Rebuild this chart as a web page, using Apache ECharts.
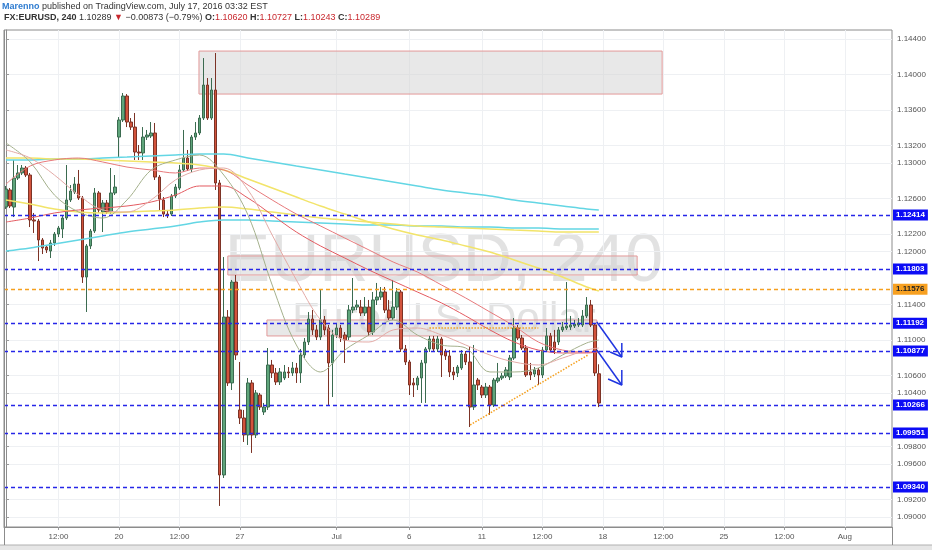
<!DOCTYPE html>
<html>
<head>
<meta charset="utf-8">
<script src="https://cdn.jsdelivr.net/npm/echarts@6.0.0/dist/echarts.min.js"></script>
<style>
html,body{margin:0;padding:0;background:#fff;}
#chart{width:932px;height:550px;}
</style>
</head>
<body>
<div id="chart"></div>
<script>
// ---- candle data (4h bars, index 0 = first visible bar) ----
const barOpen = [1.12504,1.12697,1.12504,1.12832,1.12889,1.12945,1.12866,1.12358,1.12346,1.12132,1.12052,1.12007,1.12098,1.12199,1.12256,1.12380,1.12584,1.12674,1.12764,1.12606,1.11713,1.12064,1.12233,1.12663,1.12448,1.12550,1.12448,1.12663,
1.13295,1.13488,1.13759,1.13465,1.13408,1.13126,1.13115,1.13295,1.13307,1.13341,1.12843,1.12584,1.12425,1.12425,1.12629,1.12719,1.12923,1.13058,1.12934,1.13295,1.13341,1.13510,1.13883,1.13510,1.13827,1.12776,1.09476,1.11261,1.10516,1.11657,
1.10211,1.10120,1.09928,1.10516,1.09928,1.10380,1.10188,1.10244,1.10719,1.10629,1.10527,1.10572,1.10640,1.10629,1.10685,1.10629,1.10832,1.10979,1.11239,1.11115,1.11035,1.11228,1.11137,1.10742,1.11058,1.11137,1.11058,1.11035,1.11340,1.11374,
1.11374,1.11307,1.11374,1.11092,1.11454,1.11487,1.11544,1.11340,1.11250,1.11374,1.11544,1.10900,1.10753,1.10516,1.10493,1.10572,1.10742,1.10900,1.11013,1.10900,1.11013,1.10877,1.10821,1.10640,1.10629,1.10685,1.10843,1.10753,1.10244,1.10549,
1.10470,1.10380,1.10470,1.10267,1.10538,1.10572,1.10595,1.10583,1.10798,1.11137,1.11024,1.10911,1.10640,1.10617,1.10663,1.10606,1.10888,1.11047,1.10979,1.10979,1.11115,1.11137,1.11148,1.11160,1.11171,1.11171,1.11273,1.11397,1.11171,1.10620];
const barClose = [1.12708,1.12516,1.12832,1.12889,1.12945,1.12866,1.12358,1.12346,1.12132,1.12041,1.12019,1.12098,1.12199,1.12267,1.12380,1.12584,1.12685,1.12764,1.12606,1.11713,1.12064,1.12233,1.12663,1.12471,1.12550,1.12448,1.12663,1.12730,
1.13488,1.13759,1.13465,1.13408,1.13126,1.13115,1.13295,1.13318,1.13341,1.12843,1.12595,1.12425,1.12414,1.12629,1.12730,1.12923,1.13058,1.12934,1.13295,1.13341,1.13510,1.13883,1.13510,1.13827,1.12776,1.09476,1.11261,1.10516,1.11657,1.10832,
1.10120,1.09928,1.10516,1.09928,1.10403,1.10244,1.10244,1.10719,1.10629,1.10527,1.10640,1.10640,1.10629,1.10685,1.10629,1.10832,1.10979,1.11239,1.11115,1.11035,1.11228,1.11115,1.10742,1.11058,1.11137,1.11024,1.11001,1.11340,1.11374,1.11397,
1.11307,1.11374,1.11092,1.11454,1.11487,1.11544,1.11340,1.11250,1.11374,1.11544,1.10900,1.10753,1.10493,1.10493,1.10572,1.10742,1.10900,1.11013,1.10900,1.11013,1.10832,1.10821,1.10640,1.10606,1.10696,1.10843,1.10753,1.10244,1.10493,1.10493,
1.10380,1.10470,1.10267,1.10549,1.10572,1.10595,1.10663,1.10798,1.11137,1.11024,1.10911,1.10606,1.10606,1.10663,1.10606,1.10888,1.11047,1.10888,1.10888,1.11115,1.11148,1.11160,1.11171,1.11182,1.11194,1.11273,1.11397,1.11171,1.10629,1.10289];
const barLow = [1.12482,1.12493,1.12391,1.12810,1.12866,1.12843,1.12278,1.12211,1.11894,1.11973,1.11985,1.11928,1.12064,1.12165,1.12154,1.12358,1.12561,1.12651,1.12584,1.11646,1.11318,1.12030,1.12211,1.12437,1.12222,1.12425,1.12425,1.12640,
1.13069,1.13465,1.13408,1.13375,1.13036,1.13036,1.13036,1.13262,1.13284,1.12810,1.12471,1.12391,1.12380,1.12403,1.12606,1.12697,1.12900,1.12911,1.12900,1.13262,1.13318,1.13488,1.13488,1.13488,1.12697,1.09126,1.09442,1.10482,1.10436,1.10776,
1.10052,1.09849,1.09815,1.09725,1.09894,1.10211,1.10154,1.10211,1.10572,1.10493,1.10493,1.10549,1.10572,1.10595,1.10516,1.10516,1.10798,1.10945,1.11058,1.11001,1.11001,1.11058,1.10267,1.10357,1.11024,1.10979,1.10742,1.11001,1.11307,1.11340,
1.11273,1.11273,1.11047,1.11058,1.11397,1.11454,1.11307,1.11228,1.11228,1.11340,1.10866,1.10719,1.10380,1.10357,1.10436,1.10290,1.10290,1.10866,1.10866,1.10866,1.10583,1.10776,1.10583,1.10549,1.10583,1.10663,1.10719,1.10018,1.10211,1.10436,
1.10346,1.10346,1.10154,1.10244,1.10516,1.10549,1.10572,1.10549,1.10776,1.11001,1.10888,1.10583,1.10549,1.10583,1.10493,1.10572,1.10866,1.10866,1.10843,1.10945,1.11092,1.11115,1.11115,1.11137,1.11148,1.11148,1.11250,1.11148,1.10595,1.10243];
const barHigh = [1.12742,1.12719,1.13036,1.12979,1.12979,1.12968,1.12889,1.12437,1.12369,1.12154,1.12075,1.12132,1.12222,1.12290,1.12403,1.12979,1.12753,1.12843,1.12923,1.12629,1.12086,1.12256,1.12719,1.12685,1.12584,1.12584,1.12945,1.12866,
1.13521,1.13793,1.13781,1.13510,1.13567,1.13205,1.13408,1.13375,1.13465,1.13454,1.12866,1.12617,1.12471,1.12651,1.12764,1.12979,1.13375,1.13149,1.13318,1.13465,1.13544,1.14188,1.13962,1.13962,1.14245,1.12810,1.11939,1.11340,1.11680,1.11736,
1.10753,1.10211,1.10572,1.10549,1.10436,1.10403,1.10290,1.10911,1.10776,1.10685,1.10685,1.10719,1.10696,1.10753,1.10742,1.10900,1.11024,1.11318,1.11340,1.11171,1.11567,1.11273,1.11171,1.11115,1.11194,1.11171,1.11092,1.11397,1.11702,1.11454,
1.11454,1.11487,1.11454,1.11544,1.11646,1.11600,1.11600,1.11454,1.11680,1.11589,1.11567,1.10945,1.10776,1.10572,1.10595,1.10776,1.10922,1.11047,1.11047,1.11047,1.11035,1.10900,1.10888,1.10696,1.10719,1.10888,1.10877,1.10922,1.10945,1.10572,
1.10493,1.10516,1.10493,1.10572,1.10742,1.10629,1.10696,1.10832,1.11250,1.11171,1.11058,1.10945,1.10742,1.10696,1.10685,1.10922,1.11137,1.11081,1.11115,1.11148,1.11205,1.11657,1.11273,1.11228,1.11250,1.11340,1.11487,1.11454,1.11194,1.10727];

// ---- moving averages, read at sample bars ----
const maIdx = [0,6,12,18,24,30,36,42,48,54,60,66,72,78,84,90,96,102,108,114,120,126,132,138,144,147];
const maCyanUpper = [1.13036,1.13036,1.13047,1.13047,1.13058,1.13069,1.13081,1.13092,1.13103,1.13103,1.13058,1.13013,1.12968,1.12923,1.12877,1.12832,1.12787,1.12742,1.12697,1.12663,1.12629,1.12584,1.12550,1.12516,1.12482,1.12471];
const maCyanLower = [1.12007,1.12041,1.12086,1.12132,1.12177,1.12222,1.12256,1.12290,1.12335,1.12358,1.12358,1.12346,1.12335,1.12324,1.12312,1.12301,1.12301,1.12290,1.12290,1.12278,1.12278,1.12267,1.12267,1.12256,1.12256,1.12256];
const maYellowUpper = [1.13058,1.13058,1.13047,1.13047,1.13036,1.13024,1.13013,1.13002,1.12979,1.12923,1.12821,1.12719,1.12617,1.12516,1.12425,1.12335,1.12256,1.12188,1.12132,1.12064,1.11996,1.11906,1.11815,1.11713,1.11600,1.11555];
const maYellowLower = [1.12584,1.12538,1.12482,1.12448,1.12437,1.12448,1.12459,1.12471,1.12493,1.12504,1.12482,1.12448,1.12414,1.12380,1.12358,1.12335,1.12312,1.12290,1.12278,1.12267,1.12256,1.12244,1.12233,1.12222,1.12222,1.12222];
const maRedFast = [1.12764,1.12968,1.13036,1.13058,1.13013,1.12956,1.12923,1.12889,1.12945,1.12923,1.12753,1.12584,1.12425,1.12290,1.12154,1.12019,1.11883,1.11770,1.11623,1.11476,1.11318,1.11160,1.10979,1.10888,1.10866,1.10866];
const maRedSlow = [1.12335,1.12380,1.12437,1.12471,1.12493,1.12516,1.12561,1.12640,1.12742,1.12742,1.12606,1.12414,1.12222,1.12064,1.11928,1.11792,1.11668,1.11544,1.11420,1.11273,1.11115,1.10979,1.10888,1.10855,1.10855,1.10866];
const maOlive = [1.13228,1.13013,1.12640,1.12448,1.12380,1.12584,1.12923,1.13036,1.13092,1.12866,1.12414,1.11623,1.10945,1.10640,1.10888,1.11058,1.11228,1.11058,1.10945,1.10911,1.10640,1.10640,1.10685,1.10832,1.10968,1.11001];
const maPink = [1.13149,1.13058,1.12866,1.12640,1.12471,1.12448,1.12584,1.12810,1.12923,1.12945,1.12697,1.12188,1.11680,1.11228,1.11001,1.10979,1.11115,1.11137,1.11058,1.10945,1.10832,1.10753,1.10719,1.10798,1.10888,1.10911];

// ---- horizontal levels ----
const blueLevels = [1.12414,1.11803,1.11192,1.10877,1.10266,1.09951,1.09340];
const orangeLevel = 1.11576;

// ---- axis ticks ----
const yTicks = [1.144,1.140,1.136,1.132,1.130,1.126,1.122,1.120,1.114,1.110,1.106,1.104,1.098,1.096,1.092,1.090];
const xTickIdx = [13,28,43,58,82,100,118,133,148,163,178,193,208];
const xTickText = ['12:00','20','12:00','27','Jul','6','11','12:00','18','12:00','25','12:00','Aug'];

// ---- drawn annotations (bar index, price) ----
const boxTop = [47.85, 162.7, 1.13781, 1.14267];
const boxMid = [55, 156.5, 1.11736, 1.11951];
const boxLow = [64.7, 146.5, 1.11047, 1.11228];
const orangeFlat = [[105, 1.11137],[132, 1.11137]];
const orangeTrend = [[115.1, 1.10041],[144.3, 1.10832]];
const arrow1Shaft = [[146.5, 1.11205],[152.7, 1.10809]];
const arrow1Head = [[149.8, 1.10866],[152.7, 1.10809],[152.7, 1.10968]];
const arrow2Shaft = [[146.5, 1.10888],[152.7, 1.10493]];
const arrow2Head = [[149.3, 1.10561],[152.7, 1.10493],[152.7, 1.10663]];

const yMin = 1.08888, yMax = 1.14505;
const FONT = 'Liberation Sans, Arial, sans-serif';

const chart = echarts.init(document.getElementById('chart'), null, {renderer:'canvas'});
const candleData = barOpen.map((o,i)=>[i, o, barClose[i], barLow[i], barHigh[i]]);
const maSeries = (arr, color, width) => ({
  type:'line', data: arr.map((v,k)=>[maIdx[k], v]), showSymbol:false, smooth:0.35,
  lineStyle:{color:color, width:width}, z:3, silent:true
});
const segSeries = (pts, color, width, type) => ({
  type:'line', data: pts, showSymbol:false, lineStyle:{color:color, width:width, type:type||'solid'}, z:6, silent:true
});
const box = b => [{xAxis:b[0], yAxis:b[3]}, {xAxis:b[1], yAxis:b[2]}];

const levelItems = blueLevels.map(v => ({
  yAxis: v,
  lineStyle:{color:'#2626e8', type:[4,3], width:1.3},
  label:{show:true, position:'end', formatter: v.toFixed(5), backgroundColor:'#0c0cf5', color:'#fff',
         fontSize:8, fontWeight:'bold', fontFamily:FONT, padding:[2,3,1,3], distance:1}
}));
levelItems.push({
  yAxis: orangeLevel,
  lineStyle:{color:'#f5a01e', type:[4,3], width:1.3},
  label:{show:true, position:'end', formatter: orangeLevel.toFixed(5), backgroundColor:'#f7a020', color:'#222',
         fontSize:8, fontWeight:'bold', fontFamily:FONT, padding:[2,3,1,3], distance:1}
});

const option = {
  animation:false,
  textStyle:{fontFamily:FONT},
  grid:{left:4, right:40, top:30, bottom:23, show:true, borderColor:'#8c8c8c', borderWidth:1},
  xAxis:{
    type:'value', min:-0.5, max:219.7,
    axisLine:{show:true, lineStyle:{color:'#8c8c8c'}},
    axisTick:{show:true, customValues:xTickIdx, length:3, lineStyle:{color:'#999'}},
    axisLabel:{customValues:xTickIdx, formatter:v=>{const k=xTickIdx.indexOf(v);return k>=0?xTickText[k]:'';},
               fontSize:8, color:'#555', margin:6, fontFamily:FONT},
    splitLine:{show:true, lineStyle:{color:'#eef0f3', width:1}}
  },
  yAxis:{
    type:'value', position:'right', min:yMin, max:yMax,
    axisLine:{show:true, lineStyle:{color:'#8c8c8c'}},
    axisTick:{show:true, customValues:yTicks, length:3, lineStyle:{color:'#999'}},
    axisLabel:{customValues:yTicks, formatter:v=>v.toFixed(5), fontSize:8, color:'#555', margin:5, fontFamily:FONT},
    splitLine:{show:true, lineStyle:{color:'#eef0f3', width:1}}
  },
  graphic:[
    {type:'text', x:444, y:262, z:0, silent:true, style:{text:'EURUSD, 240', font:'normal 68px '+FONT, fill:'#e2e2e2', align:'center', verticalAlign:'middle'}},
    {type:'text', x:444, y:320, z:0, silent:true, style:{text:'Euro/U.S. Dollar', font:'normal 42px '+FONT, fill:'#e2e2e2', align:'center', verticalAlign:'middle'}},
    {type:'text', x:2, y:7, z:10, silent:true, style:{
      text:'{a|Marenno}{b| published on TradingView.com, July 17, 2016 03:32 EST}',
      verticalAlign:'middle',
      rich:{a:{fill:'#2f7cd0', fontWeight:'bold', fontSize:9, fontFamily:FONT}, b:{fill:'#333', fontSize:9, fontFamily:FONT}}}},
    {type:'text', x:4, y:18, z:10, silent:true, style:{
      text:'{k|FX:EURUSD, 240}{n| 1.10289 }{r|▼}{n| −0.00873 (−0.79%) }{k|O:}{v|1.10620}{k| H:}{v|1.10727}{k| L:}{v|1.10243}{k| C:}{v|1.10289}',
      verticalAlign:'middle',
      rich:{k:{fill:'#333', fontWeight:'bold', fontSize:9, fontFamily:FONT}, n:{fill:'#333', fontSize:9, fontFamily:FONT},
            r:{fill:'#c8282e', fontSize:9, fontFamily:FONT}, v:{fill:'#c8282e', fontSize:9, fontFamily:FONT}}}},
    {type:'rect', shape:{x:0, y:545, width:932, height:5}, z:10, silent:true, style:{fill:'#e6e6e6'}},
    {type:'line', shape:{x1:0, y1:545, x2:932, y2:545}, z:10, silent:true, style:{stroke:'#b0b0b0', lineWidth:1}},
    {type:'line', shape:{x1:4.5, y1:30, x2:4.5, y2:545}, z:10, silent:true, style:{stroke:'#8c8c8c', lineWidth:1}},
    {type:'line', shape:{x1:892.5, y1:527, x2:892.5, y2:545}, z:10, silent:true, style:{stroke:'#8c8c8c', lineWidth:1}}
  ],
  series:[
    {
      type:'candlestick', data:candleData, dimensions:['idx','open','close','lowest','highest'],
      encode:{x:0, y:[1,2,3,4]}, barWidth:3, z:2, silent:true,
      itemStyle:{color:'#5fa57b', color0:'#d2533c', borderColor:'#3b6b50', borderColor0:'#7c3326', borderWidth:1},
      markArea:{silent:true,
        itemStyle:{color:'rgba(210,210,210,0.5)', borderColor:'#e39a9a', borderWidth:1},
        data:[box(boxTop), box(boxMid), box(boxLow)]},
      markLine:{silent:true, precision:5, symbol:['none','none'], data:levelItems}
    },
    maSeries(maCyanUpper, '#63d6e4', 1.5),
    maSeries(maCyanLower, '#63d6e4', 1.5),
    maSeries(maYellowUpper, '#f2e46a', 1.5),
    maSeries(maYellowLower, '#f2e46a', 1.5),
    maSeries(maRedFast, '#e7797b', 1),
    maSeries(maRedSlow, '#e35a60', 1),
    maSeries(maOlive, '#a4b08c', 1),
    maSeries(maPink, '#e3aaa6', 1),
    segSeries(orangeFlat, '#f5a01e', 1.5, 'dotted'),
    segSeries(orangeTrend, '#f5a01e', 1.5, 'dotted'),
    segSeries(arrow1Shaft, '#1f35e0', 1.5),
    segSeries(arrow1Head, '#1f35e0', 1.5),
    segSeries(arrow2Shaft, '#1f35e0', 1.5),
    segSeries(arrow2Head, '#1f35e0', 1.5)
  ]
};
chart.setOption(option);
</script>
</body>
</html>
